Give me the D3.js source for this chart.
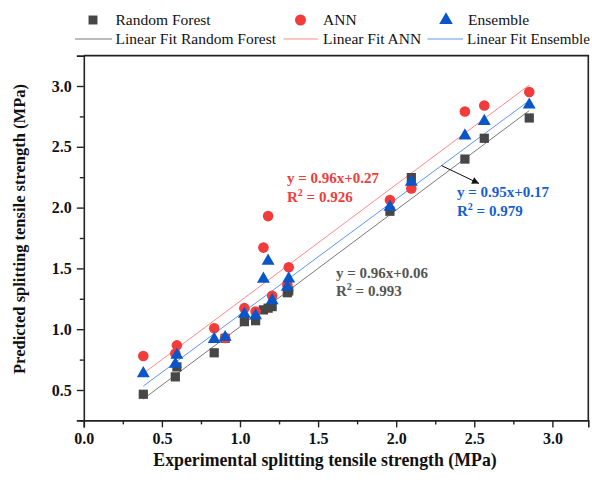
<!DOCTYPE html>
<html>
<head>
<meta charset="utf-8">
<script src="https://cdn.jsdelivr.net/npm/d3@7"></script>
<style>
  html, body { margin: 0; padding: 0; background: #fff; }
  svg { display: block; }
  text { font-family: "Liberation Serif", "Times New Roman", serif; }
</style>
</head>
<body>
<svg id="chart" width="592" height="480"></svg>
<script>
// Experimental splitting tensile strength (MPa)
const experimental = [0.381, 0.586, 0.596, 0.835, 0.905, 1.028, 1.100, 1.150, 1.180, 1.206, 1.303, 1.312, 1.960, 2.097, 2.440, 2.564, 2.852];
// Predicted values for each model (MPa)
const randomForest = [0.465, 0.608, 0.69, 0.806, 0.925, 1.062, 1.07, 1.159, 1.173, 1.186, 1.30, 1.315, 1.97, 2.247, 2.399, 2.57, 2.737];
const ann          = [0.78, 0.80, 0.867, 1.008, 0.928, 1.173, 1.145, 1.671, 1.93, 1.275, 1.366, 1.509, 2.062, 2.157, 2.79, 2.84, 2.95];
const ensemble     = [0.636, 0.713, 0.787, 0.917, 0.933, 1.124, 1.112, 1.413, 1.561, 1.236, 1.347, 1.415, 2.005, 2.211, 2.591, 2.71, 2.845];

// Linear fits: [slope, intercept, R²]
const fitRF  = [0.96, 0.06, 0.993];
const fitANN = [0.96, 0.27, 0.926];
const fitEns = [0.95, 0.17, 0.979];

const xTicks = [0, 0.5, 1.0, 1.5, 2.0, 2.5, 3.0];
const yTicks = [0.5, 1.0, 1.5, 2.0, 2.5, 3.0];
const xMinor = [0.25, 0.75, 1.25, 1.75, 2.25, 2.75];
const yMinor = [0.25, 0.75, 1.25, 1.75, 2.25, 2.75];

const colors = {
  rf: "#474747", ann: "#f23c3c", ens: "#0a55c8",
  rfLine: "#7a7a7a", annLine: "#ff8a8a", ensLine: "#5f96ec",
  rfText: "#555555", annText: "#f03c3c", ensText: "#1460d0"
};

const svg = d3.select("#chart");

const x = d3.scaleLinear().domain([0, 3.23]).range([83.8, 588.3]);
const y = d3.scaleLinear().domain([0.25, 3.25]).range([420.4, 55.6]);
const [L, R] = x.range();
const [B, T] = y.range();

// Frame (top and right edges)
svg.append("path")
  .attr("d", `M${L},${T}H${R}V${B}`)
  .attr("fill", "none").attr("stroke", "#222").attr("stroke-width", 1.6);

// Axes
svg.append("g").attr("transform", `translate(0,${B})`)
  .call(d3.axisBottom(x).tickValues(xTicks).tickFormat(d3.format(".1f")).tickSize(7).tickPadding(5));
svg.append("g").attr("transform", `translate(0,${B})`)
  .call(d3.axisBottom(x).tickValues(xMinor).tickFormat("").tickSize(4))
  .select(".domain").remove();

svg.append("g").attr("transform", `translate(${L},0)`)
  .call(d3.axisLeft(y).tickValues(yTicks).tickFormat(d3.format(".1f")).tickSize(7).tickPadding(5));
svg.append("g").attr("transform", `translate(${L},0)`)
  .call(d3.axisLeft(y).tickValues(yMinor).tickFormat("").tickSize(4))
  .select(".domain").remove();

svg.selectAll(".domain").attr("stroke", "#222").attr("stroke-width", 1.6);
svg.selectAll(".tick line").attr("stroke", "#222").attr("stroke-width", 1.4);
svg.selectAll(".tick text")
  .attr("font-family", "Liberation Serif, Times New Roman, serif")
  .attr("font-size", 16).attr("font-weight", "bold").attr("fill", "#111");

// Axis titles
svg.append("text")
  .attr("x", 325).attr("y", 466)
  .attr("text-anchor", "middle")
  .attr("font-size", 17.8).attr("font-weight", "bold").attr("fill", "#111")
  .text("Experimental splitting tensile strength (MPa)");

svg.append("text")
  .attr("transform", `translate(25,${229}) rotate(-90)`)
  .attr("text-anchor", "middle")
  .attr("font-size", 16.5).attr("font-weight", "bold").attr("fill", "#111")
  .text("Predicted splitting tensile strength (MPa)");

// Fit lines over the data range
const xr = d3.extent(experimental);
function fitLine(fit, color) {
  const line = d3.line().x(d => x(d)).y(d => y(fit[0] * d + fit[1]));
  svg.append("path").datum(xr)
    .attr("d", line).attr("fill", "none")
    .attr("stroke", color).attr("stroke-width", 1);
}
fitLine(fitRF, colors.rfLine);
fitLine(fitANN, colors.annLine);
fitLine(fitEns, colors.ensLine);

// Markers
function markers(values, type, size, color) {
  svg.append("g").selectAll("path")
    .data(values.map((v, i) => [experimental[i], v]))
    .join("path")
    .attr("transform", d => `translate(${x(d[0])},${y(d[1])})`)
    .attr("d", d3.symbol(type, size))
    .attr("fill", color);
}
markers(randomForest, d3.symbolSquare, 85, colors.rf);
markers(ann, d3.symbolCircle, 88, colors.ann);
markers(ensemble, d3.symbolTriangle, 72, colors.ens);

// Equation annotations
function annotate(px, py, fit, color) {
  const g = svg.append("g").attr("font-size", 15).attr("font-weight", "bold").attr("fill", color);
  const sign = fit[1] >= 0 ? "+" : "";
  g.append("text").attr("x", px).attr("y", py)
    .text(`y = ${fit[0].toFixed(2)}x${sign}${fit[1].toFixed(2)}`);
  const t = g.append("text").attr("x", px).attr("y", py + 18.5);
  t.append("tspan").text("R");
  t.append("tspan").attr("font-size", 10).attr("dy", -6).text("2");
  t.append("tspan").attr("dy", 6).text(` = ${fit[2].toFixed(3)}`);
}
annotate(287, 183, fitANN, colors.annText);
annotate(457, 197, fitEns, colors.ensText);
annotate(336, 277.5, fitRF, colors.rfText);

// Arrow pointing from the ensemble fit to its label
const defs = svg.append("defs");
defs.append("marker")
  .attr("id", "arrowhead").attr("viewBox", "0 0 10 10")
  .attr("refX", 10).attr("refY", 5)
  .attr("markerWidth", 9).attr("markerHeight", 7)
  .attr("markerUnits", "userSpaceOnUse")
  .attr("orient", "auto")
  .append("path").attr("d", "M0,0L10,5L0,10z").attr("fill", "#111");
const ax0 = 2.29;
svg.append("line")
  .attr("x1", x(ax0)).attr("y1", y(fitEns[0] * ax0 + fitEns[1]))
  .attr("x2", 479).attr("y2", 183.5)
  .attr("stroke", "#111").attr("stroke-width", 1)
  .attr("marker-end", "url(#arrowhead)");

// Legend
const legend = svg.append("g").attr("font-size", 15.5).attr("fill", "#111");
const row1 = 20, row2 = 39;
const legendItems = [
  { sx: 93, tx: 115.5, type: d3.symbolSquare, size: 80, color: colors.rf, label: "Random Forest" },
  { sx: 300.5, tx: 323, type: d3.symbolCircle, size: 95, color: colors.ann, label: "ANN" },
  { sx: 446, tx: 468, type: d3.symbolTriangle, size: 80, color: colors.ens, label: "Ensemble" }
];
legendItems.forEach(it => {
  legend.append("path")
    .attr("transform", `translate(${it.sx},${row1})`)
    .attr("d", d3.symbol(it.type, it.size)).attr("fill", it.color);
  legend.append("text").attr("x", it.tx).attr("y", row1 + 5).text(it.label);
});
const legendLines = [
  { x1: 75, x2: 112, tx: 115.5, color: colors.rfLine, label: "Linear Fit Random Forest" },
  { x1: 283.5, x2: 318, tx: 323, color: colors.annLine, label: "Linear Fit ANN" },
  { x1: 427.5, x2: 463, tx: 467, color: colors.ensLine, label: "Linear Fit Ensemble" }
];
legendLines.forEach(it => {
  const t = legend.append("text").attr("x", it.tx).attr("y", row2 + 5).text(it.label);
  legend.append("line").attr("x1", it.x1).attr("x2", it.x2)
    .attr("y1", row2).attr("y2", row2)
    .attr("stroke", it.color).attr("stroke-width", 1);
  // keep the last label inside the canvas
  const w = t.node().getComputedTextLength();
  if (it.tx + w > 590) t.attr("font-size", 15.5 * (590 - it.tx) / w);
});
</script>
</body>
</html>
